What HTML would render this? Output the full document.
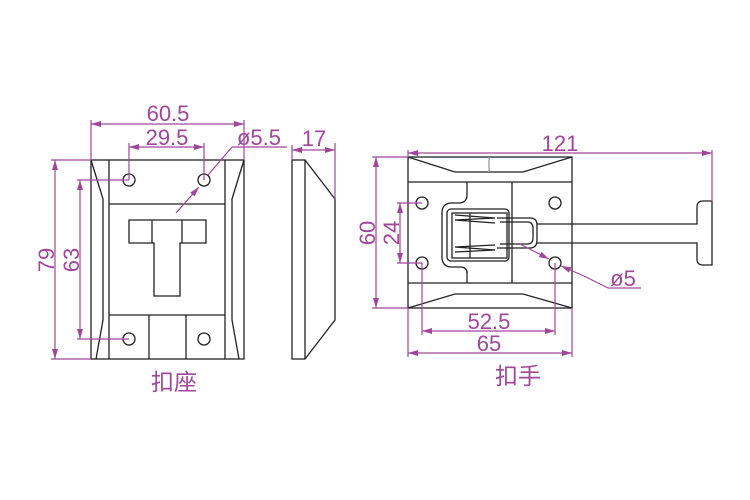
<!DOCTYPE html>
<html><head><meta charset="utf-8"><style>
html,body{margin:0;padding:0;background:#fff;}
svg{display:block}
text{font-family:"Liberation Sans","Noto Sans CJK SC",sans-serif;fill:#a0479a}
</style></head><body>
<svg width="750" height="500" viewBox="0 0 750 500" xmlns="http://www.w3.org/2000/svg">
<defs>
<marker id="a" viewBox="0 0 10 6" refX="10" refY="3" markerWidth="10" markerHeight="6" orient="auto-start-reverse" markerUnits="userSpaceOnUse"><path d="M0,0L10,3L0,6Z" fill="#a0479a"/></marker>
</defs>
<g fill="none" stroke="#222" stroke-width="1.3">
<rect x="91" y="160" width="153" height="199"/>
<line x1="109" y1="160" x2="109" y2="359"/>
<line x1="225" y1="160" x2="225" y2="359"/>
<polyline points="91,160 103,199 103,320 96,359"/>
<polyline points="244,160 232,199 232,320 239,359"/>
<line x1="109" y1="204" x2="225" y2="204"/>
<line x1="109" y1="315" x2="225" y2="315"/>
<line x1="149" y1="315" x2="149" y2="359"/>
<line x1="186" y1="315" x2="186" y2="359"/>
<circle cx="129" cy="180" r="6"/><circle cx="204" cy="180" r="6"/>
<circle cx="129" cy="339" r="6"/><circle cx="204" cy="339" r="6"/>
<path d="M129,220H206V243H180V296H154V243H129Z"/>
<line x1="152" y1="220" x2="152" y2="243"/><line x1="182" y1="220" x2="182" y2="243"/>
<rect x="292" y="160" width="13" height="199"/>
<polyline points="305,160 335,199 335,320 305,359"/>
<rect x="408" y="157" width="164" height="151"/>
<polyline points="408,157 455,172 523,172 572,157"/>
<polyline points="408,308 455,294 523,294 572,308"/>
<line x1="408" y1="182" x2="572" y2="182"/>
<line x1="408" y1="283" x2="572" y2="283"/>
<line x1="467" y1="182" x2="467" y2="195"/>
<line x1="467" y1="271" x2="467" y2="283"/>
<line x1="512" y1="182" x2="512" y2="283"/>
<circle cx="422" cy="203" r="6"/><circle cx="555" cy="203" r="6"/>
<circle cx="422" cy="263" r="6"/><circle cx="555" cy="263" r="6"/>
<path d="M467,195Q467,202 460,203H452Q442,203 442,213V257Q442,267 452,267H460Q467,267 467,273"/>
<rect x="447" y="209" width="62" height="52" rx="4"/>
<rect x="452" y="213" width="55" height="45"/>
<path d="M497,218H530Q537,218 537,225V240Q537,248 530,248H497"/>
<path d="M500,222H527Q533,222 533,228V238Q533,244 527,244H500"/>
<polyline points="455,215 495,218 455,220 495,223"/>
<polyline points="455,252 495,250 455,247 495,245"/>
<line x1="470" y1="213" x2="470" y2="258"/>
<path d="M537,224H697V207Q697,201 703,201H712V265H703Q697,265 697,259V243H537"/>
<line x1="489" y1="157" x2="489" y2="172" stroke="#999"/>
</g>
<g stroke="#a0479a" stroke-width="1.2" fill="none">
<line x1="91" y1="120" x2="91" y2="160"/><line x1="244" y1="120" x2="244" y2="160"/>
<line x1="91" y1="124" x2="244" y2="124" marker-start="url(#a)" marker-end="url(#a)"/>
<line x1="129" y1="143" x2="129" y2="180"/><line x1="204" y1="143" x2="204" y2="180"/>
<line x1="129" y1="147" x2="204" y2="147" marker-start="url(#a)" marker-end="url(#a)"/>
<line x1="176" y1="213" x2="199" y2="187" marker-end="url(#a)"/>
<line x1="208" y1="175" x2="232" y2="147"/><line x1="232" y1="147" x2="287" y2="147"/>
<line x1="51" y1="160" x2="91" y2="160"/><line x1="51" y1="359" x2="91" y2="359"/>
<line x1="55" y1="160" x2="55" y2="359" marker-start="url(#a)" marker-end="url(#a)"/>
<line x1="77" y1="180" x2="129" y2="180"/><line x1="77" y1="339" x2="129" y2="339"/>
<line x1="80" y1="180" x2="80" y2="339" marker-start="url(#a)" marker-end="url(#a)"/>
<line x1="292" y1="145" x2="292" y2="160"/><line x1="335" y1="143" x2="335" y2="199"/>
<line x1="292" y1="150" x2="335" y2="150" marker-start="url(#a)" marker-end="url(#a)"/>
<line x1="408" y1="150" x2="408" y2="157"/><line x1="712" y1="150" x2="712" y2="201"/>
<line x1="408" y1="153" x2="712" y2="153" marker-start="url(#a)" marker-end="url(#a)"/>
<line x1="372" y1="157" x2="408" y2="157"/><line x1="372" y1="308" x2="408" y2="308"/>
<line x1="376" y1="157" x2="376" y2="308" marker-start="url(#a)" marker-end="url(#a)"/>
<line x1="397" y1="203" x2="422" y2="203"/><line x1="397" y1="263" x2="422" y2="263"/>
<line x1="400" y1="203" x2="400" y2="263" marker-start="url(#a)" marker-end="url(#a)"/>
<line x1="422" y1="263" x2="422" y2="335"/><line x1="555" y1="263" x2="555" y2="335"/>
<line x1="422" y1="331" x2="555" y2="331" marker-start="url(#a)" marker-end="url(#a)"/>
<line x1="408" y1="308" x2="408" y2="357"/><line x1="572" y1="308" x2="572" y2="357"/>
<line x1="408" y1="353" x2="572" y2="353" marker-start="url(#a)" marker-end="url(#a)"/>
<line x1="520" y1="244" x2="549" y2="259" marker-end="url(#a)"/>
<line x1="584" y1="276" x2="561" y2="266" marker-end="url(#a)"/>
<line x1="584" y1="276" x2="608" y2="288"/><line x1="608" y1="288" x2="641" y2="288"/>
</g>
<g font-size="22">
<text x="168" y="121" text-anchor="middle">60.5</text>
<text x="167" y="145" text-anchor="middle">29.5</text>
<text x="259" y="145" text-anchor="middle">ø5.5</text>
<text x="314" y="146" text-anchor="middle">17</text>
<text transform="translate(54,260) rotate(-90)" text-anchor="middle">79</text>
<text transform="translate(79,260) rotate(-90)" text-anchor="middle">63</text>
<text x="560" y="151" text-anchor="middle">121</text>
<text transform="translate(375,233) rotate(-90)" text-anchor="middle">60</text>
<text transform="translate(399,233) rotate(-90)" text-anchor="middle">24</text>
<text x="489" y="329" text-anchor="middle">52.5</text>
<text x="489" y="351" text-anchor="middle">65</text>
<text x="623" y="286" text-anchor="middle">ø5</text>
<text x="174" y="390" text-anchor="middle" font-family="'Noto Serif CJK SC','Noto Sans CJK SC',serif" font-size="23">扣座</text>
<text x="518" y="384" text-anchor="middle" font-family="'Noto Serif CJK SC','Noto Sans CJK SC',serif" font-size="23">扣手</text>
</g>
</svg>
</body></html>
